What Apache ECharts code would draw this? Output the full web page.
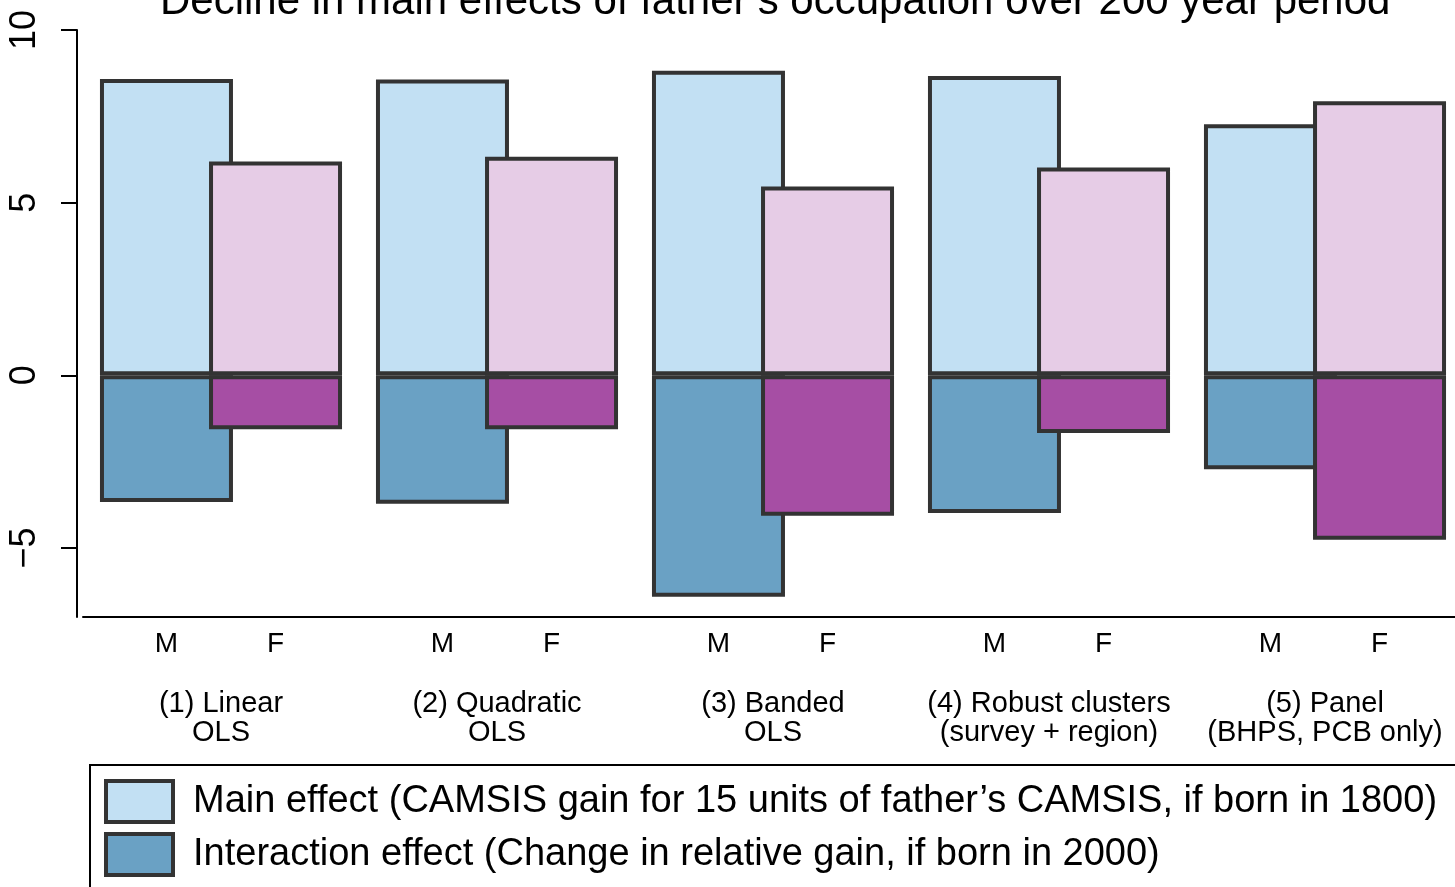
<!DOCTYPE html>
<html>
<head>
<meta charset="utf-8">
<script src="https://cdn.jsdelivr.net/npm/echarts@6/dist/echarts.min.js"></script>
<style>
html, body { margin: 0; padding: 0; background: #fff; }
#myChart { width: 1455px; height: 887px; }
</style>
</head>
<body>
<div id="myChart"></div>
<script>
// data
const groups = ['(1) Linear\nOLS', '(2) Quadratic\nOLS', '(3) Banded\nOLS',
    '(4) Robust clusters\n(survey + region)', '(5) Panel\n(BHPS, PCB only)'];
const mMain = [8.58, 8.57, 8.82, 8.67, 7.27];
const mInter = [-3.67, -3.72, -6.41, -3.99, -2.72];
const fMain = [6.19, 6.33, 5.47, 6.02, 7.94];
const fInter = [-1.56, -1.56, -4.07, -1.67, -4.76];
const yTicks = [-5, 0, 5, 10];

const mainName = 'Main effect (CAMSIS gain for 15 units of father\u2019s CAMSIS, if born in 1800)';
const interName = 'Interaction effect (Change in relative gain, if born in 2000)';

const font = '"Liberation Sans", Arial, Helvetica, sans-serif';
const border = { borderColor: '#333333', borderWidth: 4 };

let myChart = echarts.init(document.getElementById('myChart'));

function bar(name, stack, data, color) {
    return {
        name: name,
        type: 'bar',
        stack: stack,
        data: data,
        barWidth: 133,
        barGap: '-18%',
        itemStyle: Object.assign({ color: color }, border),
        emphasis: { disabled: true }
    };
}

let option = {
    animation: false,
    textStyle: { fontFamily: font },
    title: {
        text: 'Decline in main effects of father\u2019s occupation over 200 year period',
        left: 160,
        top: -19,
        padding: 0,
        textStyle: { fontFamily: font, fontSize: 42, fontWeight: 'normal', color: '#000' }
    },
    grid: {
        left: 83,
        right: -8,
        top: 30,
        bottom: 270,
        containLabel: false,
        outerBoundsMode: 'none'
    },
    legend: {
        orient: 'vertical',
        left: 90,
        top: 765,
        height: 300,
        padding: [14, 60, 17, 14],
        borderColor: '#000',
        borderWidth: 2,
        itemWidth: 67,
        itemHeight: 41,
        itemGap: 8,
        icon: 'rect',
        selectedMode: false,
        data: [
            { name: mainName, itemStyle: Object.assign({ color: '#c2e0f3' }, border) },
            { name: interName, itemStyle: Object.assign({ color: '#6aa1c4' }, border) }
        ],
        textStyle: { fontFamily: font, fontSize: 38, color: '#000', lineHeight: 41, padding: [0, 0, 0, 15] }
    },
    xAxis: [
        {
            type: 'category',
            data: groups,
            position: 'bottom',
            axisLine: { show: true, onZero: false, lineStyle: { color: '#000', width: 2 } },
            axisTick: { show: false },
            axisLabel: {
                interval: 0,
                margin: 13,
                formatter: function () { return '{m|M}{f|F}'; },
                rich: {
                    m: { width: 109, align: 'center', fontSize: 28, fontFamily: font, color: '#000' },
                    f: { width: 109, align: 'center', fontSize: 28, fontFamily: font, color: '#000' }
                }
            },
            splitLine: { show: false }
        },
        {
            type: 'category',
            data: groups,
            position: 'bottom',
            axisLine: { show: false, onZero: false },
            axisTick: { show: false },
            axisLabel: {
                interval: 0,
                margin: 72,
                fontSize: 29,
                lineHeight: 29,
                color: '#000',
                fontFamily: font
            },
            splitLine: { show: false }
        }
    ],
    yAxis: {
        type: 'value',
        min: -7,
        max: 10,
        offset: 6,
        axisLine: { show: true, lineStyle: { color: '#000', width: 2 } },
        axisTick: { show: true, length: 16, customValues: yTicks, lineStyle: { color: '#000', width: 2 } },
        axisLabel: {
            customValues: yTicks,
            rotate: 90,
            margin: 34,
            fontSize: 36,
            color: '#000',
            fontFamily: font,
            formatter: function (v) { return v < 0 ? '\u2212' + Math.abs(v) : String(v); }
        },
        splitLine: { show: false }
    },
    series: [
        bar(mainName, 'M', mMain, '#c2e0f3'),
        bar(interName, 'M', mInter, '#6aa1c4'),
        bar('F main', 'F', fMain, '#e6cce6'),
        bar('F interaction', 'F', fInter, '#a64ea4')
    ]
};

myChart.setOption(option);
</script>
</body>
</html>
